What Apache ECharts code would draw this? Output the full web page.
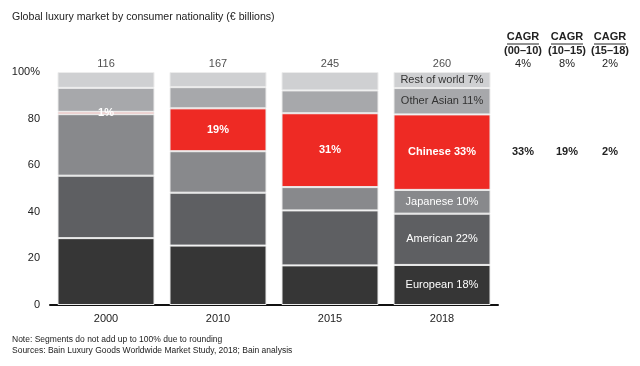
<!DOCTYPE html>
<html><head><meta charset="utf-8">
<script src="https://cdn.jsdelivr.net/npm/echarts@6/dist/echarts.min.js"></script>
<style>html,body{margin:0;padding:0;background:#fff}#c{width:640px;height:366px}</style>
</head><body><div id="c"></div>
<script>
// ---- data ----
const years = ['2000', '2010', '2015', '2018'];
const totals = [116, 167, 245, 260];
const european   = [28.7, 25.5, 17.0, 17.2];
const american   = [26.8, 22.7, 23.6, 22.0];
const japanese   = [26.4, 17.8, 10.0, 10.2];
const chinese    = [1.0, 18.4, 31.7, 32.4];
const otherAsian = [10.3, 9.1, 9.8, 11.3];
const restOfWorld= [6.8, 6.5, 7.9, 6.9];
// labels printed on segments (reported shares)
const chineseLabels    = ['1%', '19%', '31%', 'Chinese 33%'];
const europeanLabels   = ['', '', '', 'European 18%'];
const americanLabels   = ['', '', '', 'American 22%'];
const japaneseLabels   = ['', '', '', 'Japanese 10%'];
const otherAsianLabels = ['', '', '', 'Other Asian 11%'];
const restLabels       = ['', '', '', 'Rest of world 7%'];
const yTicks = [0, 20, 40, 60, 80, 100];
const cagrPeriods = ['(00–10)', '(10–15)', '(15–18)'];
const cagrTotal   = ['4%', '8%', '2%'];
const cagrChinese = ['33%', '19%', '2%'];

const FONT = 'Liberation Sans, Arial, sans-serif';
const chart = echarts.init(document.getElementById('c'), null, {renderer: 'canvas'});

function seg(name, data, labels, color, txtColor, bold) {
  return {
    name, type: 'bar', stack: 'all', barWidth: 97, data,
    itemStyle: {color, borderColor: '#ececec', borderWidth: 1},
    label: {
      show: true, position: 'inside', color: txtColor,
      fontFamily: FONT, fontSize: 11, fontWeight: bold ? 'bold' : 'normal',
      formatter: p => labels[p.dataIndex]
    },
    emphasis: {disabled: true}
  };
}

const cagrX = [523, 567, 610];
const graphics = [];
cagrX.forEach((x, i) => {
  graphics.push({type: 'text', x, y: 37, style: {text: 'CAGR', fill: '#222', font: 'bold 11px ' + FONT, textAlign: 'center', textVerticalAlign: 'middle'}});
  graphics.push({type: 'line', shape: {x1: x - 16, y1: 44, x2: x + 16, y2: 44}, style: {stroke: '#222', lineWidth: 1}});
  graphics.push({type: 'text', x, y: 51, style: {text: cagrPeriods[i], fill: '#222', font: 'bold 11px ' + FONT, textAlign: 'center', textVerticalAlign: 'middle'}});
  graphics.push({type: 'text', x, y: 64, style: {text: cagrTotal[i], fill: '#222', font: '11px ' + FONT, textAlign: 'center', textVerticalAlign: 'middle'}});
  graphics.push({type: 'text', x, y: 152, style: {text: cagrChinese[i], fill: '#222', font: 'bold 11px ' + FONT, textAlign: 'center', textVerticalAlign: 'middle'}});
});
graphics.push({type: 'text', x: 12, y: 17, style: {text: 'Global luxury market by consumer nationality (€ billions)', fill: '#222', font: '10.6px ' + FONT, textVerticalAlign: 'middle'}});
graphics.push({type: 'text', x: 12, y: 340, style: {text: 'Note: Segments do not add up to 100% due to rounding', fill: '#222', font: '8.5px ' + FONT, textVerticalAlign: 'middle'}});
graphics.push({type: 'text', x: 12, y: 351, style: {text: 'Sources: Bain Luxury Goods Worldwide Market Study, 2018; Bain analysis', fill: '#222', font: '8.5px ' + FONT, textVerticalAlign: 'middle'}});

chart.setOption({
  animation: false,
  backgroundColor: '#fff',
  grid: {left: 50, right: 142, top: 72, bottom: 61},
  xAxis: {
    type: 'category', data: years,
    axisLine: {lineStyle: {color: '#111', width: 2}},
    axisTick: {show: false},
    axisLabel: {color: '#222', fontFamily: FONT, fontSize: 11, margin: 8}
  },
  yAxis: {
    type: 'value', min: 0, max: 100, interval: 20,
    axisLine: {show: false}, axisTick: {show: false}, splitLine: {show: false},
    axisLabel: {color: '#222', fontFamily: FONT, fontSize: 11, margin: 10,
      formatter: v => yTicks.includes(v) ? (v === 100 ? '100%' : String(v)) : ''}
  },
  graphic: graphics,
  series: [
    seg('European', european, europeanLabels, '#363636', '#fff', false),
    seg('American', american, americanLabels, '#5e5f62', '#fff', false),
    seg('Japanese', japanese, japaneseLabels, '#88898c', '#fff', false),
    seg('Chinese', chinese, chineseLabels, '#ee2a24', '#fff', true),
    seg('Other Asian', otherAsian, otherAsianLabels, '#a7a8ab', '#333', false),
    seg('Rest of world', restOfWorld, restLabels, '#cfd0d2', '#333', false),
    {
      type: 'scatter', symbolSize: 0, data: totals.map(() => 100),
      label: {show: true, position: 'top', distance: 3, color: '#222', fontFamily: FONT, fontSize: 11,
        formatter: p => String(totals[p.dataIndex])},
      emphasis: {disabled: true}, silent: true
    }
  ]
});
</script></body></html>
